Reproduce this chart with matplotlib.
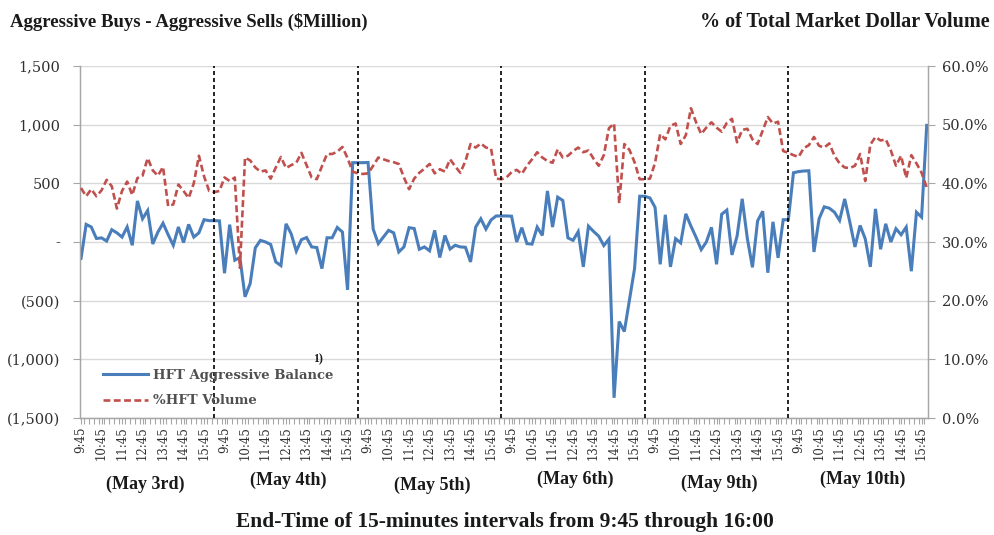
import matplotlib
matplotlib.use("Agg")
import matplotlib.pyplot as plt
from matplotlib.ticker import FuncFormatter, FixedLocator

# ---------------- data ----------------
day_labels = ["(May 3rd)", "(May 4th)", "(May 5th)", "(May 6th)", "(May 9th)", "(May 10th)"]

times = ["9:45", "10:00", "10:15", "10:30", "10:45", "11:00", "11:15", "11:30",
         "11:45", "12:00", "12:15", "12:30", "12:45", "13:00", "13:15", "13:30",
         "13:45", "14:00", "14:15", "14:30", "14:45", "15:00", "15:15", "15:30",
         "15:45", "16:00"]

# HFT aggressive balance ($Million), one list per day
balance_may3 = [-140, 150, 128, 30, 35, 8, 105, 78, 42, 128, -28, 350, 198, 268,
                -17, 85, 160, 62, -28, 128, -5, 150, 42, 78, 190, 182, 182, 180]
balance_may4 = [-266, 148, -155, -133, -467, -354, -50, 14, 0, -21, -170, -201, 155, 70,
                -78, 20, 38, -42, -47, -227, 36, 36, 124, 85, -408, 676, 676, 676]
balance_may5 = [678, 110, -14, 42, 99, 78, -85, -42, 122, 115, -62, -42, -75, 99,
                -132, 56, -60, -28, -42, -45, -170, 127, 198, 110, 188, 222, 222, 222]
balance_may6 = [220, 0, 122, -14, -18, 127, 56, 435, 127, 382, 354, 35, 14, 88,
                -212, 135, 90, 50, -30, 25, -1328, -678, -763, -494, -226, 390, 390, 375]
balance_may9 = [295, -190, 232, -212, 28, -8, 240, 135, 40, -65, 0, 125, -190, 237,
                272, -110, 50, 368, 30, -216, 180, 262, -262, 172, -135, 190, 190, 590]
balance_may10 = [600, 605, 607, -85, 198, 300, 288, 254, 184, 367, 170, -42, 141,
                 28, -212, 282, -62, 155, 0, 113, 62, 127, -249, 254, 212, 994]

# %HFT volume (percent of total market dollar volume), one list per day
hft_may3 = [39.2, 37.8, 39.0, 37.8, 38.8, 40.6, 39.5, 35.7, 38.7, 40.3, 38.0, 40.9, 41.3, 44.3,
            42.2, 41.3, 42.8, 36.1, 36.4, 39.8, 38.7, 37.5, 40.0, 44.7, 41.2, 38.7, 38.5, 38.7]
hft_may4 = [41.0, 40.4, 41.0, 25.6, 44.4, 43.9, 42.7, 42.0, 42.2, 40.8, 42.7, 44.5, 42.6, 43.1,
            43.5, 45.2, 43.1, 41.0, 40.7, 42.9, 45.0, 45.0, 45.4, 46.2, 44.3, 42.0, 41.7, 41.6]
hft_may5 = [41.7, 43.0, 44.4, 44.1, 43.8, 43.6, 43.3, 41.0, 39.0, 40.8, 41.8, 42.5, 43.3, 41.7,
            42.4, 42.0, 44.1, 42.9, 41.8, 43.8, 46.7, 46.1, 46.8, 46.1, 45.9, 40.8, 40.7, 41.0]
hft_may6 = [41.9, 42.3, 41.6, 43.0, 44.1, 45.3, 44.4, 43.8, 43.5, 45.8, 44.4, 44.7, 45.5, 46.1,
            45.3, 45.6, 44.2, 43.0, 44.8, 49.4, 50.2, 36.6, 46.7, 45.7, 43.6, 40.7, 40.7, 40.8]
hft_may9 = [43.5, 48.4, 47.5, 49.8, 50.2, 46.7, 48.2, 52.8, 50.4, 48.4, 49.5, 50.4, 49.5, 48.8,
            50.3, 51.0, 47.0, 49.1, 49.3, 47.5, 46.7, 49.0, 51.3, 50.2, 50.5, 45.5, 45.2, 44.8]
hft_may10 = [44.5, 46.0, 46.5, 47.9, 46.4, 46.1, 46.8, 44.7, 43.4, 42.7, 42.6, 43.0, 45.0,
             40.4, 46.6, 47.9, 47.3, 47.5, 45.6, 43.0, 44.7, 40.9, 44.8, 43.4, 41.8, 39.3]

balance_days = [balance_may3, balance_may4, balance_may5, balance_may6, balance_may9, balance_may10]
hft_days = [hft_may3, hft_may4, hft_may5, hft_may6, hft_may9, hft_may10]

# ---------------- build category axis ----------------
balance = [v for d in balance_days for v in d]
hft = [v for d in hft_days for v in d]
cat_labels = []
for d in balance_days:
    n = len(d)
    cat_labels += (times + ["", ""])[:n]
x = list(range(len(balance)))
day_starts = []
pos = 0
for d in balance_days:
    day_starts.append(pos)
    pos += len(d)

# ---------------- figure ----------------
W, H = 995, 535
fig = plt.figure(figsize=(W / 100, H / 100), dpi=100)
ax = fig.add_axes([80 / W, 117 / H, 848 / W, 352 / H])
ax2 = ax.twinx()

blue = "#4a7ebb"
red = "#c0504d"
grey = "#a6a6a6"
txt = "#303030"
serif = ["DejaVu Serif"]
bold_serif = ["Liberation Serif", "DejaVu Serif"]

ln1, = ax.plot(x, balance, color=blue, lw=2.2, zorder=3, solid_joinstyle="miter",
               label="HFT Aggressive Balance")
ln2, = ax2.plot(x, hft, color=red, lw=1.9, dashes=(2.6, 1.3), zorder=3,
                label="%HFT Volume")

ax.set_xlim(-0.2, len(balance) - 0.75)
ax.set_ylim(-1500, 1500)
ax2.set_ylim(0, 60)

ax.set_yticks(range(-1500, 1501, 500))
ax2.set_yticks(range(0, 61, 10))


def fmt_left(v, p):
    v = int(round(v))
    if v == 0:
        return "-"
    if v < 0:
        return "({:,})".format(-v)
    return "{:,}".format(v)


ax.yaxis.set_major_formatter(FuncFormatter(fmt_left))
ax2.yaxis.set_major_formatter(FuncFormatter(lambda v, p: "{:.1f}%".format(v)))

ax.grid(axis="y", color="#d9d9d9", lw=1.0)
ax.set_axisbelow(True)

major = [i for i, lab in enumerate(cat_labels) if i % 4 == 0 and lab]
ax.xaxis.set_major_locator(FixedLocator(major))
ax.set_xticklabels([cat_labels[i] for i in major], rotation=90, fontsize=8.5,
                   family=serif, color=txt)
ax.xaxis.set_minor_locator(FixedLocator([i - 0.5 for i in range(1, len(balance))]))
ax.tick_params(axis="x", which="both", length=4, color=grey, width=0.8, pad=2)
ax.tick_params(axis="y", length=5, color=grey, width=0.8, labelsize=10.5, labelcolor=txt, pad=9)
ax2.tick_params(axis="y", length=5, color=grey, width=0.8, labelsize=10.5, labelcolor=txt, pad=5)
for lab in ax.get_yticklabels() + ax2.get_yticklabels():
    lab.set_family(serif)

for a in (ax, ax2):
    a.spines["top"].set_visible(False)
    for s in ("left", "right", "bottom"):
        a.spines[s].set_color(grey)
        a.spines[s].set_linewidth(0.9)

# day separators
for s in day_starts[1:]:
    ax2.axvline(s - 2, color="black", lw=1.2, linestyle=(0, (2.4, 1.8)), zorder=5)

# day labels
day_y = [484, 480, 485, 479, 483, 479]
tr = matplotlib.transforms.blended_transform_factory(ax.transData, fig.transFigure)
for s, lab, yy in zip(day_starts, day_labels, day_y):
    fig.text(s + 12.5, 1 - yy / H, lab, transform=tr, ha="center", va="center",
             fontsize=13, fontweight="bold", family=bold_serif, color="#1a1a1a")

# headers
fig.text(10 / W, 1 - 22 / H, "Aggressive Buys - Aggressive Sells ($Million)", ha="left",
         va="center", fontsize=13.5, fontweight="bold", family=bold_serif, color="#1a1a1a")
fig.text(990 / W, 1 - 22 / H, "% of Total Market Dollar Volume", ha="right",
         va="center", fontsize=14.5, fontweight="bold", family=bold_serif, color="#1a1a1a")
fig.text(505 / W, 1 - 522 / H, "End-Time of 15-minutes intervals from 9:45 through 16:00",
         ha="center", va="center", fontsize=15.5, fontweight="bold", family=bold_serif,
         color="#1a1a1a")

# legend
leg = ax2.legend(handles=[ln1, ln2], loc="lower left", bbox_to_anchor=(0.027, 0.03),
                 frameon=False, handlelength=3.4, handletextpad=0.4,
                 labelspacing=0.95, borderpad=0, borderaxespad=0,
                 prop={"family": serif, "weight": "bold", "size": 9.5})
for t in leg.get_texts():
    t.set_color("#505050")

fig.text(318 / W, 1 - 359 / H, "1)", ha="center", va="center", fontsize=8.5,
         fontweight="bold", family=bold_serif, color="#1a1a1a")

fig.savefig("out.png", dpi=100)
